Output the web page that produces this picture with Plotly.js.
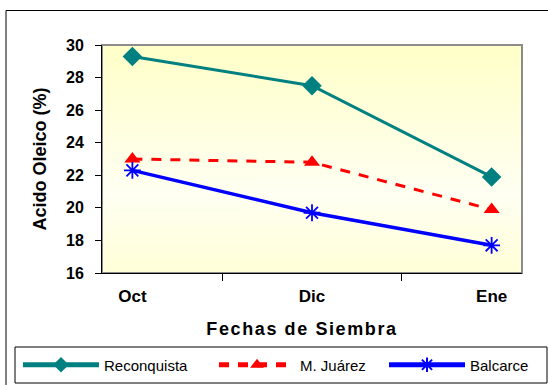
<!DOCTYPE html>
<html>
<head>
<meta charset="utf-8">
<script src="https://cdn.plot.ly/plotly-3.0.1.min.js"></script>
<style>
body{margin:0;padding:0;background:#fff;}
#chart{width:548px;height:385px;}
.xtitle{letter-spacing:1.6px;transform:translateX(-10px);}
</style>
</head>
<body>
<div id="chart"></div>
<script>
const categories = ["Oct", "Dic", "Ene"];
const reconquista = [29.3, 27.5, 21.9];
const mjuarez = [23.0, 22.8, 19.9];
const balcarce = [22.3, 19.7, 17.7];
const seriesNames = ["Reconquista", "M. Juárez", "Balcarce"];
const yTicks = [16, 18, 20, 22, 24, 26, 28, 30];

const gradSvg = "<svg xmlns='http://www.w3.org/2000/svg' width='10' height='100' preserveAspectRatio='none'><defs><linearGradient id='g' x1='0' y1='0' x2='0' y2='1'><stop offset='0' stop-color='#FFFFC8'/><stop offset='0.65' stop-color='#FFFFF2'/><stop offset='1' stop-color='#FFFFD8'/></linearGradient></defs><rect width='10' height='100' fill='url(#g)'/></svg>";
const gradUrl = "data:image/svg+xml;charset=utf-8," + encodeURIComponent(gradSvg);

const traces = [
  {x: categories, y: reconquista, name: seriesNames[0], type: "scatter", mode: "lines+markers",
   legend: "legend",
   line: {color: "#008080", width: 3},
   marker: {symbol: "diamond", size: 15, color: "#008080"}},
  {x: categories, y: mjuarez, name: seriesNames[1], type: "scatter", mode: "lines+markers",
   legend: "legend2",
   line: {color: "#FF0000", width: 3, dash: "10px,9px"},
   marker: {symbol: "triangle-up", size: 14, color: "#FF0000"}},
  {x: categories, y: balcarce, name: seriesNames[2], type: "scatter", mode: "lines+markers",
   legend: "legend3",
   line: {color: "#0000FF", width: 3.5},
   marker: {symbol: "asterisk-open", size: 14, color: "#0000FF", line: {color: "#0000FF", width: 1.8}}}
];

function px2x(p) { return (p - 102) / 420; }
function px2y(p) { return (273 - p) / 228; }

const legendBase = {
  orientation: "h", xanchor: "left", yanchor: "middle", y: px2y(365),
  borderwidth: 0, bgcolor: "rgba(0,0,0,0)",
  font: {size: 15, family: "Arial, Liberation Sans, sans-serif"},
  itemwidth: 76, itemsizing: "constant"
};

const layout = {
  width: 548, height: 385,
  margin: {l: 102, r: 26, t: 45, b: 112, autoexpand: false},
  paper_bgcolor: "#FFFFFF",
  plot_bgcolor: "rgba(0,0,0,0)",
  font: {family: "Arial, Liberation Sans, sans-serif", color: "#000"},
  showlegend: true,
  xaxis: {
    type: "category", tickson: "boundaries", automargin: false,
    showline: true, linecolor: "#000", linewidth: 1,
    ticks: "outside", ticklen: 7, tickcolor: "#000", tickwidth: 1,
    showgrid: false, zeroline: false,
    tickfont: {size: 17, family: "Arial, Liberation Sans, sans-serif", weight: "bold"},
    ticklabelstandoff: 8,
    title: {text: "<b>Fechas de Siembra</b>", font: {size: 18}, standoff: 16}
  },
  yaxis: {
    range: [16, 30], tickvals: yTicks, automargin: false,
    showline: true, linecolor: "#000", linewidth: 1,
    ticks: "outside", ticklen: 6, tickcolor: "#000", tickwidth: 1,
    showgrid: false, zeroline: false,
    tickfont: {size: 16, family: "Arial, Liberation Sans, sans-serif", weight: "bold"},
    ticklabelstandoff: 8,
    title: {text: "<b>Acido Oleico (%)</b>", font: {size: 18}, standoff: 14}
  },
  legend: Object.assign({}, legendBase, {x: px2x(18)}),
  legend2: Object.assign({}, legendBase, {x: px2x(214)}),
  legend3: Object.assign({}, legendBase, {x: px2x(384)}),
  images: [{source: gradUrl, xref: "paper", yref: "paper", x: 0, y: 1, sizex: 1, sizey: 1,
            xanchor: "left", yanchor: "top", sizing: "stretch", layer: "below"}],
  shapes: [
    {type: "rect", xref: "paper", yref: "paper", x0: 0, x1: 1, y0: 0, y1: 1,
     line: {color: "#8C8C8C", width: 2}, fillcolor: "rgba(0,0,0,0)", layer: "below"},
    {type: "rect", xref: "paper", yref: "paper", x0: px2x(6), x1: px2x(560), y0: px2y(400), y1: px2y(10.5),
     line: {color: "#000", width: 1}, fillcolor: "rgba(0,0,0,0)", layer: "below"},
    {type: "rect", xref: "paper", yref: "paper", x0: px2x(15), x1: px2x(547), y0: px2y(383), y1: px2y(347),
     line: {color: "#000", width: 1}, fillcolor: "rgba(0,0,0,0)", layer: "below"}
  ]
};

Plotly.newPlot("chart", traces, layout, {displayModeBar: false, staticPlot: true});
</script>
</body>
</html>
